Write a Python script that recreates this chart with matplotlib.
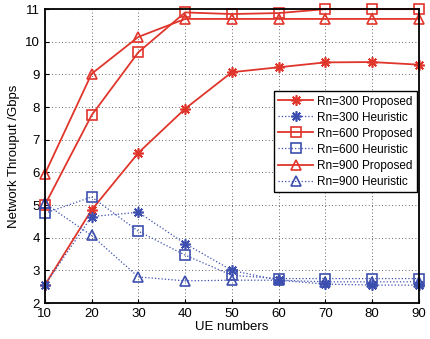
import matplotlib
matplotlib.use("Agg")
import matplotlib.pyplot as plt

plt.rcParams['font.family'] = ['Liberation Sans', 'DejaVu Sans']

ue = [10, 20, 30, 40, 50, 60, 70, 80, 90]

rn300_prop = [2.55, 4.85, 6.6, 7.95, 9.07, 9.22, 9.37, 9.38, 9.3]
rn300_heur = [2.55, 4.65, 4.78, 3.82, 3.0, 2.7, 2.58, 2.55, 2.55]
rn600_prop = [5.0, 7.75, 9.68, 10.9, 10.85, 10.88, 11.0, 11.0, 11.0]
rn600_heur = [4.75, 5.25, 4.2, 3.47, 2.85, 2.75, 2.75, 2.75, 2.75]
rn900_prop = [5.95, 9.02, 10.15, 10.7, 10.7, 10.7, 10.7, 10.7, 10.7]
rn900_heur = [5.05, 4.07, 2.8, 2.68, 2.7, 2.7, 2.65, 2.65, 2.65]

red = '#e0352b'
blue = '#3d4fae'
asterisk = (8, 2, 0)

fig = plt.figure(figsize=(4.31, 3.39), dpi=100)
ax = fig.add_axes([0.104, 0.106, 0.868, 0.867])

series = [
    (rn300_prop, 'Rn=300 Proposed', red, '-', asterisk),
    (rn300_heur, 'Rn=300 Heuristic', blue, ':', asterisk),
    (rn600_prop, 'Rn=600 Proposed', red, '-', 's'),
    (rn600_heur, 'Rn=600 Heuristic', blue, ':', 's'),
    (rn900_prop, 'Rn=900 Proposed', red, '-', '^'),
    (rn900_heur, 'Rn=900 Heuristic', blue, ':', '^'),
]
for vals, label, col, ls, mk in series:
    ax.plot(ue, vals, color=col, linestyle=ls, marker=mk,
            linewidth=1.3 if ls == '-' else 0.9,
            markersize=7.5 if mk != 's' else 6.5,
            markerfacecolor='none', markeredgecolor=col,
            markeredgewidth=1.2, label=label, clip_on=False)

ax.set_xlim(10, 90)
ax.set_ylim(2, 11)
ax.set_xticks(ue)
ax.set_yticks(range(2, 12))
ax.grid(True, linestyle=(0, (1, 3)), color='#333333', linewidth=0.6)
ax.tick_params(direction='in', labelsize=9.5, length=3)
for s in ax.spines.values():
    s.set_linewidth(1.3)

ax.set_xlabel('UE numbers', fontsize=9.5, labelpad=1)
ax.set_ylabel('Network Throuput /Gbps', fontsize=9.5, labelpad=4)

leg = ax.legend(loc='upper right', bbox_to_anchor=(0.995, 0.72), fontsize=8.5,
                fancybox=False, edgecolor='black', framealpha=1,
                handlelength=2.9, borderpad=0.35, labelspacing=0.34,
                handletextpad=0.4, borderaxespad=0)
leg.get_frame().set_linewidth(1.0)

fig.savefig('out.png', dpi=100)
